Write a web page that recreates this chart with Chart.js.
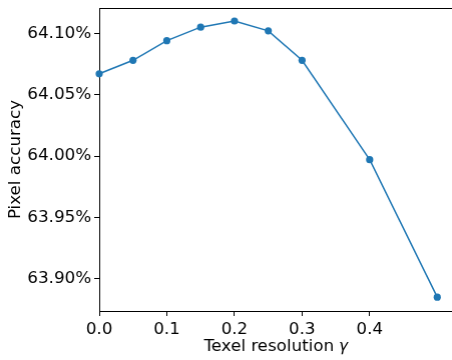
<!DOCTYPE html>
<html>
<head>
<meta charset="utf-8">
<script src="https://cdn.jsdelivr.net/npm/chart.js@4/dist/chart.umd.min.js"></script>
<style>
  html, body { margin: 0; padding: 0; background: #fff; overflow: hidden; }
  #wrap { width: 455.6px; height: 360px; position: relative; }
</style>
</head>
<body>
<div id="wrap"><canvas id="chart"></canvas></div>
<script>
var gammaValues = [0, 0.05, 0.1, 0.15, 0.2, 0.25, 0.3, 0.4, 0.5];
var accuracyValues = [64.067, 64.078, 64.094, 64.105, 64.110, 64.102, 64.078, 63.997, 63.885];
var xTickValues = [0, 0.1, 0.2, 0.3, 0.4];
var yTickValues = [63.90, 63.95, 64.00, 64.05, 64.10];

Chart.defaults.font.family = "'DejaVu Sans', sans-serif";
Chart.defaults.font.size = 16.7;
Chart.defaults.color = '#000';

var points = gammaValues.map(function(g, i) { return { x: g, y: accuracyValues[i] }; });

function fixTicks(values) {
  return function(scale) {
    scale.ticks = values.map(function(v) { return { value: v }; });
  };
}

var ctx = document.getElementById('chart').getContext('2d');
new Chart(ctx, {
  type: 'line',
  data: {
    datasets: [{
      data: points,
      borderColor: '#1f77b4',
      backgroundColor: '#1f77b4',
      borderWidth: 1.5,
      pointRadius: 3.6,
      pointHoverRadius: 3.6,
      pointBorderWidth: 0,
      pointHoverBorderWidth: 0,
      pointBackgroundColor: '#1f77b4',
      tension: 0,
      clip: false
    }]
  },
  options: {
    responsive: true,
    maintainAspectRatio: false,
    animation: false,
    events: [],
    layout: { padding: { top: 8, right: 0, left: 0, bottom: 0 } },
    plugins: { legend: { display: false }, tooltip: { enabled: false } },
    scales: {
      x: {
        type: 'linear',
        position: 'bottom',
        min: 0,
        max: 0.5233,
        afterBuildTicks: fixTicks(xTickValues),
        afterFit: function(scale) {
          scale.height = 49;
          scale.paddingLeft = 0;
          scale.paddingRight = 0;
        },
        grid: { drawOnChartArea: false, drawTicks: true, tickLength: 5, color: '#000' },
        border: { display: true, color: '#000', width: 1 },
        ticks: {
          padding: 4,
          callback: function(v) { return v.toFixed(1); }
        },
        title: {
          display: true,
          text: 'Texel resolution 𝛾',
          padding: { top: 0, bottom: 3 }
        }
      },
      xTop: {
        type: 'linear',
        position: 'top',
        display: true,
        afterFit: function(scale) { scale.height = 0; },
        grid: { display: false, drawTicks: false },
        ticks: { display: false },
        border: { display: true, color: '#000', width: 1 }
      },
      y: {
        type: 'linear',
        position: 'left',
        min: 63.8737,
        max: 64.1206,
        afterBuildTicks: fixTicks(yTickValues),
        afterFit: function(scale) {
          scale.width = 99;
          scale.paddingTop = 0;
          scale.paddingBottom = 0;
        },
        grid: { drawOnChartArea: false, drawTicks: true, tickLength: 5, color: '#000' },
        border: { display: true, color: '#000', width: 1 },
        ticks: {
          padding: 3,
          callback: function(v) { return v.toFixed(2) + '%'; }
        },
        title: {
          display: true,
          text: 'Pixel accuracy',
          padding: { top: 6, bottom: 0 }
        }
      }
    }
  }
});
</script>
</body>
</html>
